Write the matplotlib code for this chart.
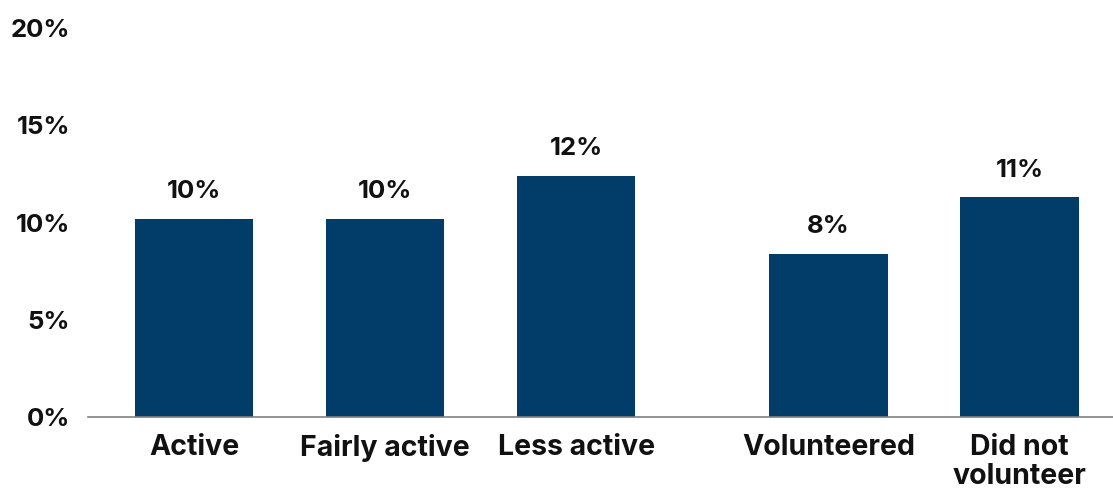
import matplotlib
matplotlib.use("Agg")
import matplotlib.pyplot as plt

categories = ["Active", "Fairly active", "Less active", "Volunteered", "Did not\nvolunteer"]
values = [10.2, 10.2, 12.4, 8.4, 11.3]
labels = ["10%", "10%", "12%", "8%", "11%"]
yticks = [0, 5, 10, 15, 20]
ytick_labels = ["0%", "5%", "10%", "15%", "20%"]

positions = [0, 1, 2, 3.32, 4.32]

plt.rcParams['font.family'] = ['Inter', 'DejaVu Sans']
fig = plt.figure(figsize=(11.13, 4.92), dpi=100)
ax = fig.add_axes([88/1113, 75/492, 1 - 88/1113, (417-28)/492])
color = "#023d6a"
ax.bar(positions, values, width=0.62, color=color, zorder=2)
for x, v, l in zip(positions, values, labels):
    ax.text(x, v + 0.8, l, ha="center", va="bottom", fontsize=18.5, fontweight="bold", color="#111111")
ax.set_ylim(0, 20)
ax.set_xlim(-0.555, 4.81)
ax.set_yticks(yticks)
ax.set_yticklabels(ytick_labels, fontsize=18.5, fontweight="bold", color="#111111")
ax.set_xticks(positions)
ax.set_xticklabels(categories, fontsize=20.5, fontweight="bold", color="#111111", linespacing=1.1)
ax.tick_params(axis="both", length=0)
ax.tick_params(axis="y", pad=13)
ax.tick_params(axis="x", pad=12)
for s in ["top", "right", "left"]:
    ax.spines[s].set_visible(False)
ax.spines["bottom"].set_color("#808080")
ax.spines["bottom"].set_linewidth(1.2)
fig.savefig("out.png", dpi=100)
